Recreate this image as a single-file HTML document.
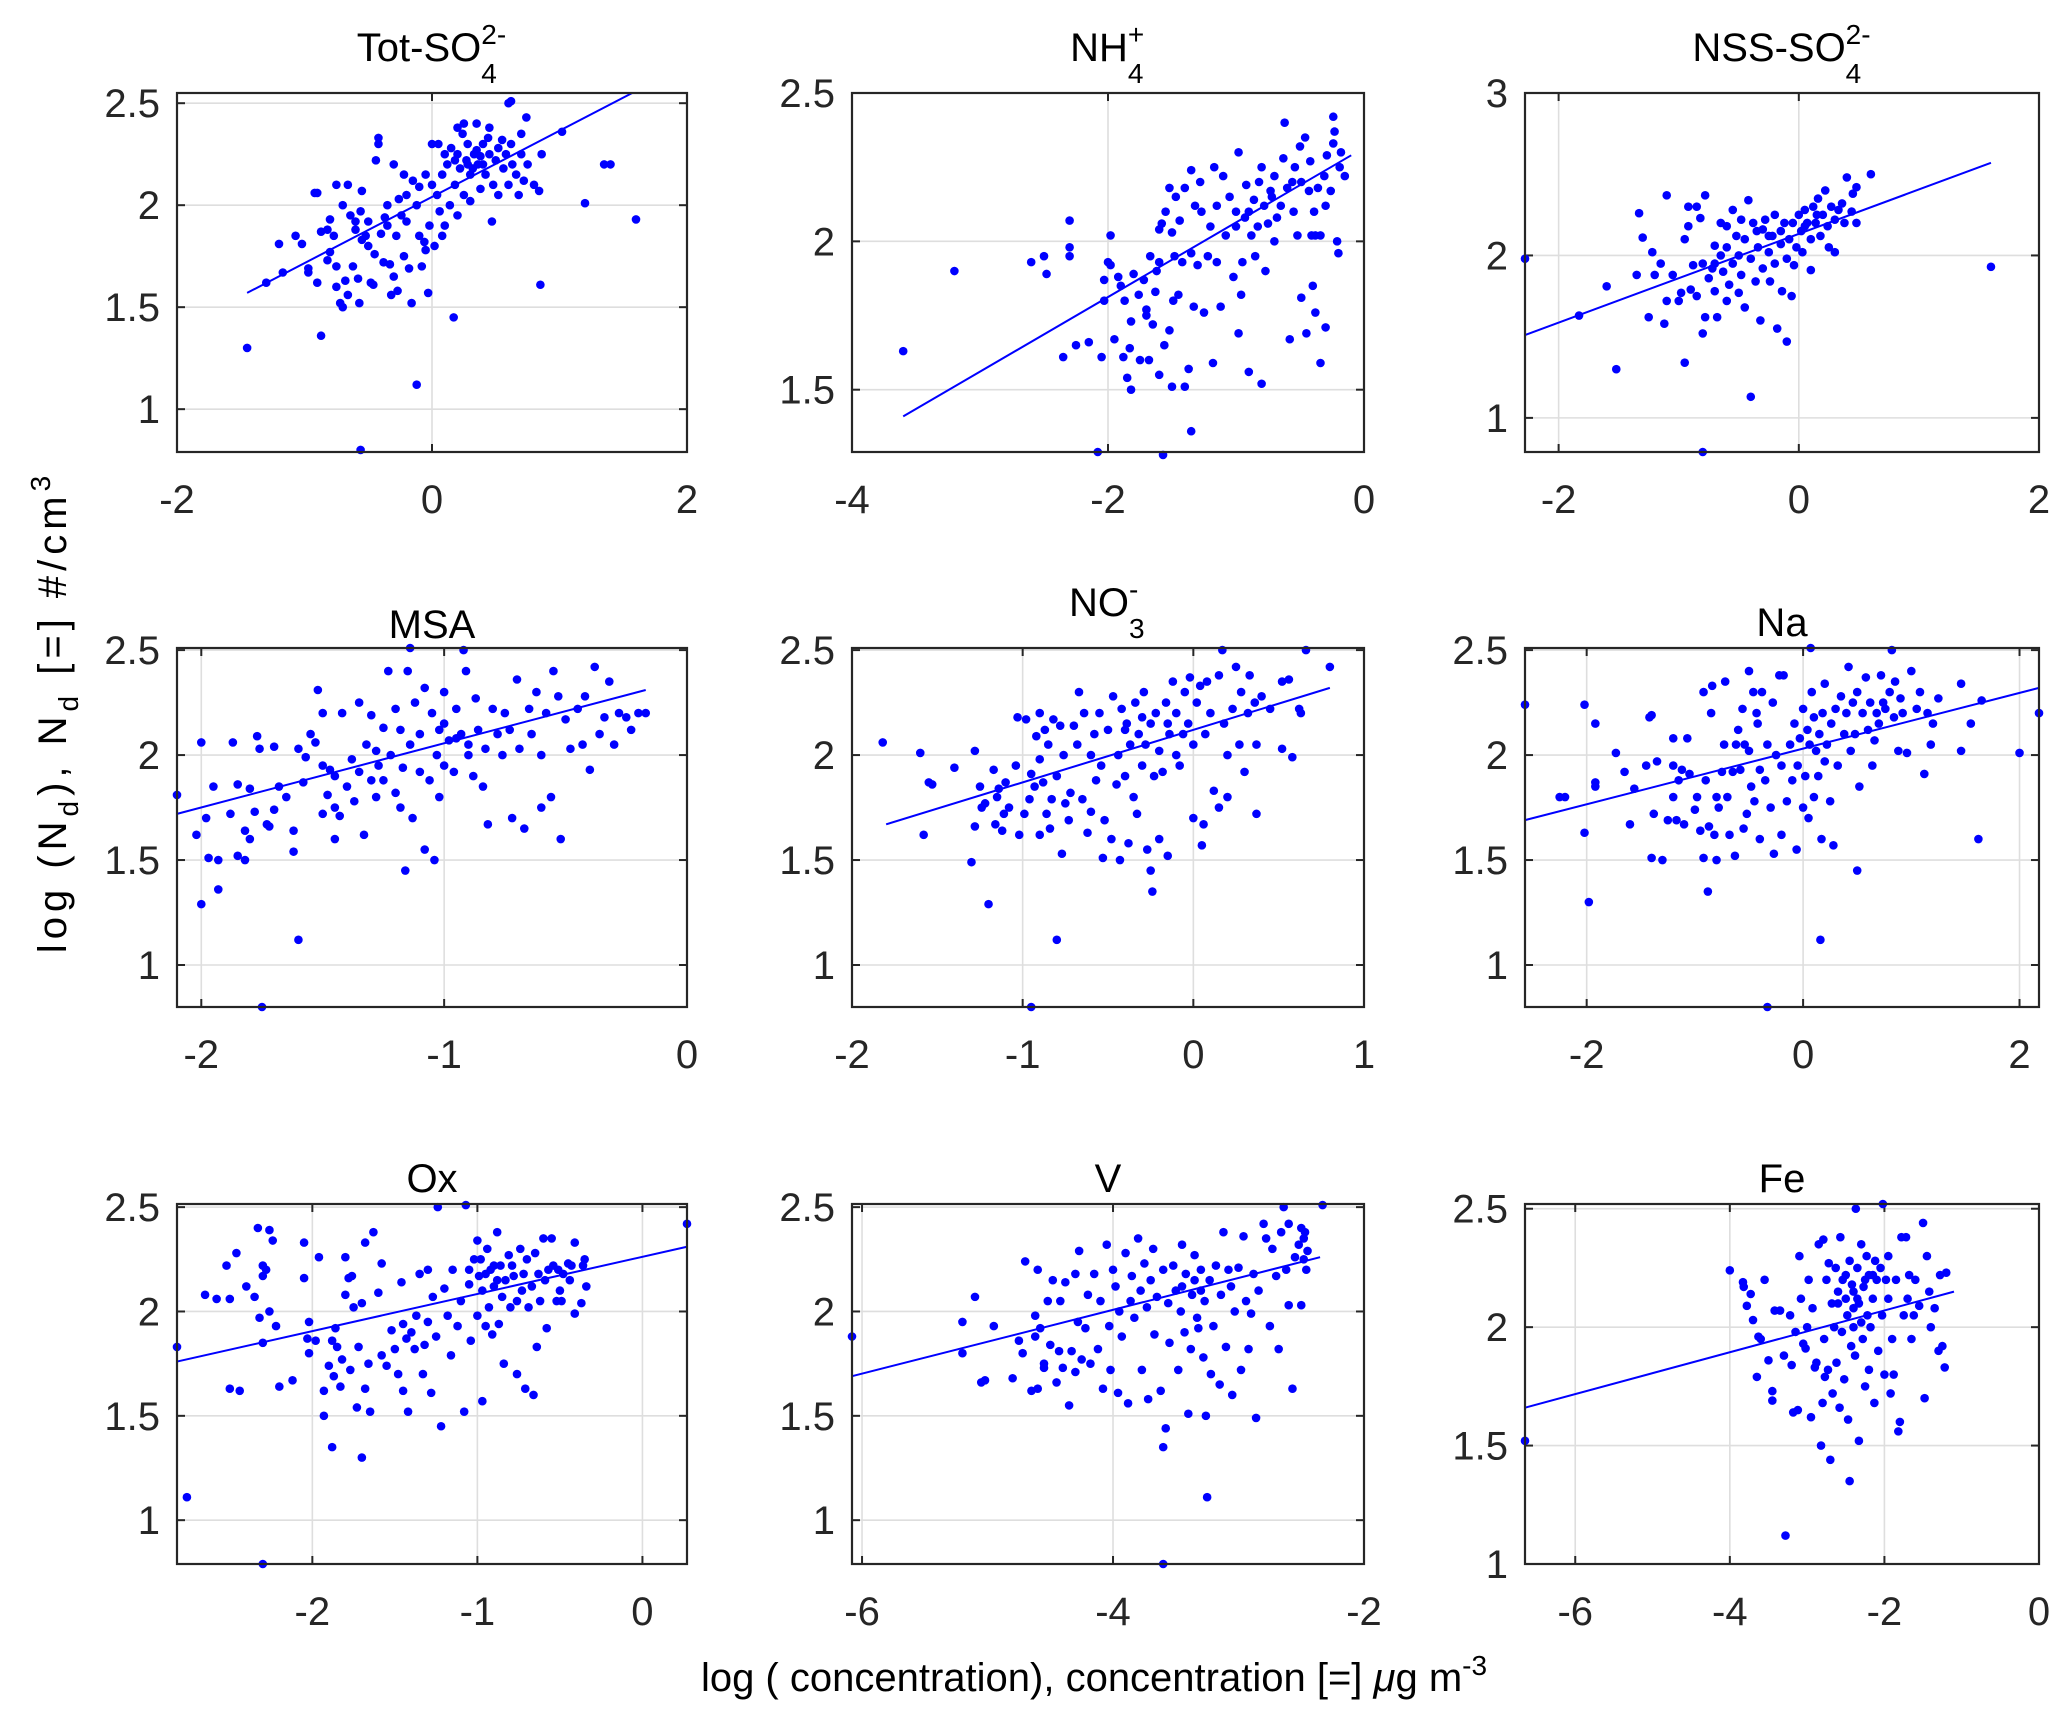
<!DOCTYPE html>
<html><head><meta charset="utf-8">
<style>
html,body{margin:0;padding:0;background:#fff;}
#fig{position:relative;width:2067px;height:1720px;overflow:hidden;font-family:"Liberation Sans",Arial,sans-serif;color:#000;}
svg{position:absolute;left:0;top:0;}
.title{position:absolute;font-size:40px;line-height:40px;white-space:nowrap;transform:translateX(-50%);}
.ss{position:relative;display:inline-block;width:26px;height:0;font-size:28px;line-height:32px;}
.ss .sp{position:absolute;left:0;top:-42px;}
.ss .sb{position:absolute;left:0;top:-3px;}
.lbl{position:absolute;font-size:40px;line-height:40px;white-space:nowrap;}
.sub{font-size:28px;position:relative;top:12px;}
.sup{font-size:28px;position:relative;top:-16px;}
</style></head><body>
<div id="fig">
<svg id="plot" width="2067" height="1720"></svg>

<div class="title" style="left:432px;top:28px">Tot-SO<span class="ss"><span class="sp">2-</span><span class="sb">4</span></span></div>
<div class="title" style="left:1108px;top:28px">NH<span class="ss" style="width:18px"><span class="sp">+</span><span class="sb">4</span></span></div>
<div class="title" style="left:1782px;top:28px">NSS-SO<span class="ss"><span class="sp">2-</span><span class="sb">4</span></span></div>
<div class="title" style="left:432px;top:605px">MSA</div>
<div class="title" style="left:1108px;top:583px">NO<span class="ss" style="width:18px"><span class="sp">-</span><span class="sb">3</span></span></div>
<div class="title" style="left:1782px;top:603px">Na</div>
<div class="title" style="left:432px;top:1159px">Ox</div>
<div class="title" style="left:1108px;top:1159px">V</div>
<div class="title" style="left:1782px;top:1159px">Fe</div>

<div class="lbl" id="ylab" style="left:55px;top:712px;letter-spacing:5px;transform:translate(-50%,-50%) rotate(-90deg);">log (N<span class="sub">d</span>), N<span class="sub">d</span> [=] #/cm<span class="sup">3</span></div>
<div class="lbl" style="left:1094px;top:1658px;transform:translateX(-50%);">log ( concentration), concentration [=] <i>μ</i>g m<span class="sup">-3</span></div>
</div>
<script>
// ---- data ----
const panelNames = ["tot-so4","nh4","nss-so4","msa","no3","na","ox","v","fe"];
const xTicksTot=[-2,0,2], yTicksTot=[1,1.5,2,2.5];
const xTicksNH4=[-4,-2,0], yTicksNH4=[1.5,2,2.5];
const xTicksNSS=[-2,0,2], yTicksNSS=[1,2,3];
const xTicksMSA=[-2,-1,0], yTicksMSA=[1,1.5,2,2.5];
const xTicksNO3=[-2,-1,0,1], yTicksNO3=[1,1.5,2,2.5];
const xTicksNa=[-2,0,2], yTicksNa=[1,1.5,2,2.5];
const xTicksOx=[-2,-1,0], yTicksOx=[1,1.5,2,2.5];
const xTicksV=[-6,-4,-2], yTicksV=[1,1.5,2,2.5];
const xTicksFe=[-6,-4,-2,0], yTicksFe=[1,1.5,2,2.5];

const fitTot=[[-1.45,1.57],[1.57,2.55]];
const fitNH4=[[-3.6,1.41],[-0.1,2.29]];
const fitNSS=[[-2.28,1.51],[1.6,2.57]];
const fitMSA=[[-2.1,1.72],[-0.17,2.31]];
const fitNO3=[[-1.8,1.67],[0.8,2.32]];
const fitNa=[[-2.57,1.69],[2.18,2.32]];
const fitOx=[[-2.82,1.76],[0.27,2.31]];
const fitV=[[-6.08,1.69],[-2.35,2.26]];
const fitFe=[[-6.65,1.66],[-1.1,2.15]];

const ptsTot=[[-1.45,1.30],[-0.87,1.36],[-0.12,1.12],[-0.56,0.8],[0.17,1.45],[0.85,1.61],[1.2,2.01],[1.6,1.93],[1.4,2.2],[1.35,2.2],[1.02,2.36],[0.86,2.25],[0.74,2.43],[0.6,2.5],[0.62,2.51],
[-1.3,1.62],[-1.2,1.81],[-1.17,1.67],[-1.07,1.85],[-1.02,1.81],[-0.97,1.69],[-0.97,1.67],[-0.92,2.06],[-0.9,2.06],[-0.9,1.62],[-0.87,1.87],[-0.82,1.88],[-0.82,1.73],[-0.8,1.77],[-0.8,1.93],[-0.77,1.85],[-0.75,1.6],[-0.75,1.7],[-0.75,2.1],[-0.72,1.52],[-0.7,1.5],[-0.7,2.0],[-0.68,1.63],[-0.66,1.56],[-0.66,2.1],[-0.64,1.95],[-0.62,1.7],[-0.6,1.92],[-0.6,1.88],[-0.58,1.64],[-0.57,1.52],[-0.56,1.97],[-0.55,2.07],[-0.55,1.83],[-0.52,1.85],[-0.5,1.92],[-0.5,1.8],[-0.48,1.62],[-0.46,1.61],[-0.45,1.76],[-0.44,2.22],[-0.42,2.33],[-0.42,2.3],[-0.4,1.86],[-0.38,1.72],[-0.37,1.94],[-0.35,2.0],[-0.35,1.9],[-0.33,1.71],[-0.32,1.56],[-0.3,1.65],[-0.3,2.2],[-0.28,1.85],[-0.27,1.58],[-0.26,2.03],[-0.24,1.95],[-0.22,1.75],[-0.22,2.15],[-0.2,1.92],[-0.2,2.05],[-0.18,1.69],[-0.16,1.52],[-0.15,2.12],[-0.12,2.0],[-0.1,1.85],[-0.1,2.09],[-0.08,1.7],[-0.06,1.82],[-0.05,2.15],[-0.03,1.57],[-0.02,1.9],[0.0,2.1],[0.02,1.8],[0.0,2.3],[0.04,2.05],[0.06,1.97],[0.08,2.15],[0.1,1.9],[0.12,2.2],[0.14,2.0],[0.15,2.28],[0.18,2.1],[0.2,1.95],[0.2,2.25],[0.22,2.18],[0.24,2.35],[0.25,2.05],[0.27,2.22],[0.28,2.3],[0.3,2.15],[0.3,2.02],[0.33,2.25],[0.35,2.27],[0.36,2.2],[0.38,2.08],[0.4,2.3],[0.4,2.2],[0.42,2.15],[0.44,2.33],[0.45,2.25],[0.47,1.92],[0.48,2.1],[0.5,2.22],[0.52,2.28],[0.52,2.05],[0.55,2.32],[0.56,2.18],[0.58,2.25],[0.6,2.1],[0.62,2.3],[0.63,2.2],[0.66,2.15],[0.68,2.05],[0.7,2.35],[0.7,2.25],[0.72,2.12],[0.75,2.2],[0.8,2.1],[0.84,2.07],[0.2,2.38],[0.25,2.4],[0.35,2.4],[0.45,2.38],[0.05,2.3],[0.1,2.25],[-0.05,1.78],[0.08,1.85],[0.28,2.2],[0.32,2.18],[0.38,2.24],[0.18,2.22]];

const ptsNH4=[[-3.6,1.63],[-3.2,1.9],[-2.3,2.07],[-2.6,1.93],[-2.5,1.95],[-2.48,1.89],[-2.3,1.98],[-2.3,1.95],[-2.35,1.61],[-2.25,1.65],[-2.15,1.66],[-2.05,1.61],[-1.98,2.02],[-2.03,1.8],[-2.03,1.87],[-2.0,1.93],[-1.98,1.92],[-1.95,1.67],[-1.92,1.88],[-1.9,1.85],[-1.88,1.61],[-1.87,1.8],[-1.85,1.54],[-1.83,1.64],[-1.82,1.5],[-1.82,1.73],[-1.8,1.89],[-1.76,1.82],[-1.75,1.6],[-1.72,1.87],[-1.7,1.77],[-1.7,1.75],[-1.68,1.6],[-1.67,1.95],[-1.65,1.72],[-1.63,1.83],[-1.62,1.9],[-1.6,1.55],[-1.6,1.93],[-1.58,2.06],[-1.56,1.65],[-1.55,2.1],[-1.52,1.7],[-1.5,2.03],[-1.5,1.51],[-1.49,1.8],[-1.48,1.95],[-1.47,2.15],[-1.45,1.82],[-1.44,2.07],[-1.42,1.93],[-1.4,2.18],[-1.4,1.51],[-1.37,1.57],[-1.35,1.36],[-1.35,1.96],[-1.33,1.78],[-1.32,2.12],[-1.3,1.92],[-1.28,2.2],[-1.27,2.1],[-1.25,1.76],[-1.22,1.95],[-1.2,2.05],[-1.18,1.59],[-1.17,2.25],[-1.15,1.93],[-1.15,2.12],[-1.12,1.78],[-1.1,2.22],[-1.08,2.02],[-1.05,2.15],[-1.02,1.88],[-1.0,2.1],[-0.98,1.69],[-0.98,2.3],[-0.96,1.82],[-0.95,1.93],[-0.93,2.08],[-0.92,2.19],[-0.9,1.56],[-0.88,2.02],[-0.86,2.14],[-0.85,1.95],[-0.83,2.05],[-0.82,2.2],[-0.8,1.52],[-0.78,2.12],[-0.77,1.9],[-0.75,2.06],[-0.73,2.17],[-0.7,2.0],[-0.7,2.22],[-0.68,2.08],[-0.65,2.12],[-0.63,2.28],[-0.62,2.4],[-0.6,2.18],[-0.58,1.67],[-0.56,2.2],[-0.55,2.1],[-0.54,2.25],[-0.52,2.02],[-0.5,2.32],[-0.49,1.81],[-0.49,2.2],[-0.46,2.35],[-0.45,1.69],[-0.43,2.17],[-0.42,2.27],[-0.41,2.02],[-0.4,1.85],[-0.39,2.1],[-0.38,1.76],[-0.38,2.02],[-0.36,2.18],[-0.34,1.59],[-0.34,2.02],[-0.31,2.22],[-0.3,1.71],[-0.29,2.29],[-0.3,2.12],[-0.26,2.17],[-0.24,2.33],[-0.23,2.37],[-0.21,2.0],[-0.2,1.96],[-0.19,2.25],[-0.18,2.3],[-0.24,2.42],[-0.15,2.22],[-1.57,1.28],[-2.08,1.29],[-1.6,2.04],[-1.52,2.18],[-1.35,2.24],[-1.0,2.05],[-0.9,2.1],[-0.8,2.25],[-0.72,2.15]];

const ptsNSS=[[-2.28,1.98],[-1.83,1.63],[-1.6,1.81],[-1.52,1.3],[-1.33,2.26],[-1.3,2.11],[-1.35,1.88],[-1.25,1.62],[-1.22,2.02],[-1.2,1.88],[-1.15,1.95],[-1.1,2.37],[-1.12,1.58],[-1.1,1.72],[-1.05,1.88],[-1.0,1.72],[-0.98,1.77],[-0.95,2.1],[-0.95,1.34],[-0.92,2.18],[-0.9,1.79],[-0.88,1.94],[-0.85,2.3],[-0.85,1.75],[-0.82,2.23],[-0.8,1.52],[-0.8,1.95],[-0.78,2.37],[-0.78,1.62],[-0.75,1.86],[-0.72,1.92],[-0.7,2.06],[-0.7,1.78],[-0.68,1.62],[-0.65,2.2],[-0.63,1.9],[-0.6,2.05],[-0.6,1.72],[-0.58,1.82],[-0.55,2.28],[-0.55,1.95],[-0.52,2.12],[-0.5,2.0],[-0.5,1.77],[-0.48,1.88],[-0.45,2.1],[-0.45,1.68],[-0.42,2.34],[-0.4,1.98],[-0.4,1.13],[-0.38,2.2],[-0.36,1.84],[-0.34,2.05],[-0.32,1.6],[-0.3,2.16],[-0.3,1.92],[-0.28,2.22],[-0.25,2.02],[-0.24,1.84],[-0.22,2.12],[-0.2,1.95],[-0.2,2.25],[-0.18,1.55],[-0.15,2.07],[-0.14,1.78],[-0.12,2.2],[-0.1,1.98],[-0.08,2.1],[-0.06,1.75],[-0.05,2.2],[-0.04,1.94],[-0.1,1.47],[-0.02,2.05],[0.0,2.25],[0.02,2.15],[0.03,2.02],[0.05,2.28],[0.07,2.2],[0.1,2.1],[0.1,1.91],[0.12,2.3],[0.14,2.2],[0.16,2.35],[0.18,2.12],[0.2,2.25],[0.22,2.4],[0.24,2.18],[0.25,2.05],[0.27,2.3],[0.3,2.22],[0.3,2.02],[0.33,2.28],[0.36,2.32],[0.38,2.2],[0.4,2.48],[0.44,2.27],[0.45,2.38],[0.48,2.42],[0.48,2.2],[0.6,2.5],[1.6,1.93],[-0.8,0.79],[-0.92,2.3],[-0.6,2.18],[-0.35,2.15],[-0.48,2.22],[-0.25,2.12],[-0.15,2.15],[0.05,2.18],[0.15,2.25],[-0.65,2.0],[-0.7,1.95]];

const ptsMSA=[[-2.1,1.81],[-2.02,1.62],[-2.0,1.29],[-2.0,2.06],[-1.98,1.7],[-1.97,1.51],[-1.95,1.85],[-1.93,1.5],[-1.93,1.36],[-1.88,1.72],[-1.87,2.06],[-1.85,1.52],[-1.85,1.86],[-1.82,1.64],[-1.82,1.5],[-1.8,1.6],[-1.8,1.84],[-1.78,1.73],[-1.77,2.09],[-1.76,2.03],[-1.75,0.8],[-1.73,1.67],[-1.72,1.66],[-1.7,2.04],[-1.7,1.74],[-1.68,1.85],[-1.65,1.8],[-1.62,1.64],[-1.62,1.54],[-1.6,2.03],[-1.6,1.12],[-1.58,1.87],[-1.57,1.99],[-1.55,2.1],[-1.53,2.06],[-1.52,2.31],[-1.5,2.2],[-1.5,1.95],[-1.48,1.81],[-1.47,1.93],[-1.45,1.75],[-1.45,1.6],[-1.43,1.71],[-1.42,2.2],[-1.4,1.85],[-1.38,1.98],[-1.37,1.78],[-1.35,2.25],[-1.35,1.92],[-1.33,1.62],[-1.32,2.05],[-1.3,1.88],[-1.3,2.19],[-1.28,1.8],[-1.27,1.95],[-1.25,2.13],[-1.25,1.88],[-1.23,2.4],[-1.22,2.0],[-1.2,1.82],[-1.2,2.22],[-1.18,1.75],[-1.17,1.94],[-1.16,1.45],[-1.15,2.4],[-1.14,2.05],[-1.13,1.7],[-1.12,2.25],[-1.1,1.92],[-1.1,2.1],[-1.08,1.55],[-1.08,2.32],[-1.06,1.88],[-1.05,2.2],[-1.04,1.5],[-1.03,2.0],[-1.02,1.8],[-1.0,2.3],[-1.0,1.95],[-1.0,2.15],[-0.98,2.07],[-0.96,1.92],[-0.95,2.22],[-0.93,2.1],[-0.92,2.5],[-0.91,2.4],[-0.9,2.05],[-0.88,1.9],[-0.87,2.27],[-0.86,2.12],[-0.84,1.85],[-0.83,2.03],[-0.82,1.67],[-0.8,2.22],[-0.78,2.1],[-0.76,2.0],[-0.75,2.2],[-0.73,2.12],[-0.72,1.7],[-0.7,2.36],[-0.69,2.03],[-0.67,1.65],[-0.65,2.22],[-0.64,2.1],[-0.62,2.3],[-0.6,1.75],[-0.6,2.0],[-0.58,2.2],[-0.56,1.8],[-0.55,2.4],[-0.53,2.28],[-0.52,1.6],[-0.5,2.17],[-0.48,2.03],[-0.45,2.22],[-0.43,2.05],[-0.42,2.28],[-0.4,1.93],[-0.38,2.42],[-0.36,2.1],[-0.34,2.18],[-0.32,2.35],[-0.3,2.05],[-0.28,2.2],[-0.25,2.18],[-0.23,2.12],[-0.2,2.2],[-0.17,2.2],[-1.14,2.51],[-1.5,1.72],[-1.45,1.9],[-0.9,2.0],[-1.28,2.02],[-1.18,2.12],[-1.02,2.12],[-0.95,2.08]];

const ptsNO3=[[-1.82,2.06],[-1.6,2.01],[-1.58,1.62],[-1.55,1.87],[-1.53,1.86],[-1.4,1.94],[-1.3,1.49],[-1.28,2.02],[-1.28,1.66],[-1.25,1.85],[-1.24,1.75],[-1.22,1.77],[-1.2,1.29],[-1.17,1.93],[-1.16,1.67],[-1.15,1.8],[-1.14,1.84],[-1.12,1.64],[-1.11,1.72],[-1.1,1.87],[-1.08,1.75],[-1.04,1.95],[-1.03,2.18],[-1.02,1.62],[-0.99,1.72],[-0.98,2.17],[-0.96,1.79],[-0.95,1.91],[-0.93,1.85],[-0.92,2.09],[-0.9,2.2],[-0.9,1.62],[-0.9,1.98],[-0.88,1.87],[-0.87,2.12],[-0.86,1.72],[-0.85,2.05],[-0.84,1.65],[-0.83,1.79],[-0.82,2.17],[-0.8,1.9],[-0.8,1.12],[-0.78,2.14],[-0.77,1.53],[-0.76,2.0],[-0.75,1.77],[-0.73,1.69],[-0.72,1.82],[-0.7,2.14],[-0.68,2.05],[-0.67,2.3],[-0.65,1.79],[-0.64,2.2],[-0.62,1.63],[-0.6,2.0],[-0.6,1.73],[-0.58,2.1],[-0.57,1.88],[-0.55,2.2],[-0.54,1.95],[-0.53,1.51],[-0.52,1.69],[-0.5,2.12],[-0.48,1.6],[-0.47,2.28],[-0.45,1.86],[-0.44,2.0],[-0.43,1.5],[-0.42,2.22],[-0.4,1.9],[-0.39,2.15],[-0.38,1.58],[-0.37,2.05],[-0.35,1.8],[-0.34,2.25],[-0.33,1.72],[-0.32,2.1],[-0.3,1.95],[-0.29,2.3],[-0.28,2.05],[-0.27,1.55],[-0.25,2.15],[-0.25,1.45],[-0.24,1.35],[-0.23,1.9],[-0.22,2.2],[-0.2,2.02],[-0.2,1.6],[-0.18,1.92],[-0.16,2.25],[-0.15,1.52],[-0.14,2.1],[-0.12,2.35],[-0.1,2.0],[-0.1,2.2],[-0.08,1.95],[-0.06,2.1],[-0.05,2.3],[-0.03,2.15],[-0.02,2.37],[0.0,2.05],[0.0,1.7],[0.02,2.25],[0.04,2.33],[0.05,1.57],[0.06,1.67],[0.07,2.1],[0.08,2.35],[0.1,2.2],[0.12,1.83],[0.15,2.38],[0.15,1.75],[0.17,2.5],[0.18,2.15],[0.2,2.0],[0.2,1.8],[0.23,2.22],[0.25,2.42],[0.27,2.05],[0.28,2.3],[0.3,1.92],[0.32,2.2],[0.33,2.38],[0.36,2.25],[0.37,2.05],[0.37,1.72],[0.4,2.28],[0.45,2.22],[0.52,2.03],[0.52,2.35],[0.56,2.36],[0.58,1.99],[0.62,2.22],[0.63,2.2],[0.66,2.5],[0.8,2.42],[-0.95,0.8],[-0.4,2.12],[-0.3,2.18],[-0.15,2.15]];

const ptsNa=[[-2.57,2.24],[-2.25,1.8],[-2.2,1.8],[-2.02,2.24],[-2.02,1.63],[-1.98,1.3],[-1.92,1.87],[-1.92,1.85],[-1.92,2.15],[-1.73,2.01],[-1.65,1.92],[-1.6,1.67],[-1.56,1.84],[-1.45,1.95],[-1.42,2.18],[-1.4,2.19],[-1.4,1.51],[-1.38,1.72],[-1.35,1.97],[-1.3,1.5],[-1.25,1.69],[-1.2,1.95],[-1.2,1.8],[-1.2,2.08],[-1.17,1.69],[-1.15,1.88],[-1.12,1.93],[-1.1,1.67],[-1.07,2.08],[-1.05,1.91],[-1.0,1.74],[-0.98,1.8],[-0.95,1.64],[-0.92,1.51],[-0.92,2.3],[-0.9,1.88],[-0.88,1.35],[-0.87,1.66],[-0.85,2.2],[-0.84,2.33],[-0.82,1.62],[-0.8,1.5],[-0.8,1.8],[-0.78,1.75],[-0.75,1.92],[-0.73,2.05],[-0.72,2.35],[-0.7,1.8],[-0.68,1.62],[-0.65,1.92],[-0.63,1.52],[-0.62,2.05],[-0.6,2.12],[-0.58,1.93],[-0.56,2.22],[-0.55,1.65],[-0.54,2.05],[-0.52,1.72],[-0.5,2.02],[-0.5,2.4],[-0.48,1.85],[-0.46,2.3],[-0.45,1.78],[-0.43,2.2],[-0.42,2.15],[-0.4,1.6],[-0.4,1.93],[-0.38,2.3],[-0.35,1.88],[-0.33,2.05],[-0.3,1.75],[-0.28,2.25],[-0.27,1.53],[-0.25,2.0],[-0.22,2.38],[-0.2,1.95],[-0.2,1.62],[-0.18,2.38],[-0.15,1.78],[-0.12,2.05],[-0.1,1.88],[-0.08,2.15],[-0.06,1.55],[-0.05,1.95],[-0.03,2.08],[0.0,1.75],[0.0,2.22],[0.02,1.9],[0.04,2.12],[0.05,1.7],[0.06,2.05],[0.08,2.3],[0.1,1.8],[0.1,2.18],[0.12,2.02],[0.14,1.9],[0.15,2.1],[0.16,1.12],[0.17,1.6],[0.18,2.2],[0.2,2.34],[0.2,1.97],[0.22,2.05],[0.25,1.78],[0.26,2.15],[0.28,1.57],[0.3,2.22],[0.32,1.95],[0.35,2.28],[0.38,2.1],[0.4,2.2],[0.42,2.42],[0.44,2.02],[0.46,2.25],[0.48,2.1],[0.5,1.45],[0.5,2.3],[0.52,1.85],[0.55,2.2],[0.58,2.37],[0.6,2.12],[0.62,2.25],[0.64,1.95],[0.66,2.07],[0.68,2.2],[0.7,2.15],[0.72,2.38],[0.74,2.25],[0.76,2.22],[0.8,2.3],[0.82,2.5],[0.84,2.18],[0.85,2.35],[0.88,2.02],[0.9,2.27],[0.92,2.2],[0.96,2.01],[1.0,2.4],[1.05,2.22],[1.08,2.3],[1.12,1.91],[1.15,2.2],[1.18,2.05],[1.2,2.15],[1.25,2.27],[1.46,2.02],[1.46,2.34],[1.55,2.15],[1.62,1.6],[1.65,2.26],[2.0,2.01],[2.18,2.2],[0.07,2.51],[-0.33,0.8]];

const ptsOx=[[-2.82,1.83],[-2.76,1.11],[-2.65,2.08],[-2.58,2.06],[-2.52,2.22],[-2.5,2.06],[-2.5,1.63],[-2.46,2.28],[-2.44,1.62],[-2.4,2.12],[-2.35,2.07],[-2.33,2.4],[-2.32,1.97],[-2.3,1.85],[-2.3,2.22],[-2.3,2.17],[-2.28,2.2],[-2.26,2.0],[-2.26,2.39],[-2.24,2.34],[-2.22,1.93],[-2.2,1.64],[-2.12,1.67],[-2.05,2.16],[-2.05,2.33],[-2.03,1.87],[-2.02,1.95],[-2.02,1.8],[-1.98,1.86],[-1.96,2.26],[-1.93,1.62],[-1.93,1.5],[-1.9,1.74],[-1.88,1.86],[-1.88,1.35],[-1.87,1.69],[-1.86,1.92],[-1.85,1.83],[-1.83,1.64],[-1.82,1.77],[-1.8,2.08],[-1.8,2.26],[-1.78,2.16],[-1.77,1.72],[-1.76,2.17],[-1.75,2.02],[-1.73,1.54],[-1.72,1.83],[-1.7,2.04],[-1.7,1.3],[-1.68,1.63],[-1.68,2.33],[-1.66,1.75],[-1.65,1.52],[-1.63,2.38],[-1.6,2.09],[-1.58,1.79],[-1.58,2.23],[-1.55,1.74],[-1.52,1.91],[-1.5,1.82],[-1.48,1.7],[-1.46,2.14],[-1.45,1.62],[-1.45,1.94],[-1.43,1.87],[-1.42,1.52],[-1.4,1.9],[-1.38,1.82],[-1.37,1.98],[-1.35,2.18],[-1.33,1.7],[-1.32,1.84],[-1.3,2.2],[-1.3,1.95],[-1.28,1.61],[-1.27,2.07],[-1.25,1.88],[-1.24,2.5],[-1.22,1.45],[-1.2,2.11],[-1.18,1.98],[-1.16,1.79],[-1.15,2.2],[-1.12,1.93],[-1.1,2.05],[-1.08,1.52],[-1.05,2.13],[-1.04,1.86],[-1.02,2.25],[-1.0,1.98],[-0.99,2.17],[-0.97,1.57],[-0.97,2.1],[-0.95,1.93],[-0.94,2.3],[-0.93,2.02],[-0.92,2.2],[-0.91,1.89],[-0.9,2.12],[-0.88,2.38],[-0.87,1.94],[-0.86,2.22],[-0.85,2.07],[-0.84,1.75],[-0.83,2.15],[-0.81,2.27],[-0.8,2.02],[-0.79,2.22],[-0.78,2.17],[-0.76,1.7],[-0.76,2.05],[-0.74,2.3],[-0.73,2.1],[-0.72,2.18],[-0.71,1.63],[-0.7,2.25],[-0.69,2.02],[-0.67,2.12],[-0.66,1.6],[-0.65,2.28],[-0.64,1.83],[-0.63,2.18],[-0.62,2.05],[-0.6,2.35],[-0.59,2.15],[-0.58,1.92],[-0.57,2.2],[-0.55,2.35],[-0.54,2.22],[-0.52,2.05],[-0.51,2.2],[-0.5,2.1],[-0.49,2.05],[-0.48,2.18],[-0.45,2.23],[-0.44,2.15],[-0.43,2.22],[-0.41,1.99],[-0.41,2.33],[-0.37,2.04],[-0.36,2.22],[-0.34,2.12],[-0.35,2.25],[0.27,2.42],[-1.07,2.51],[-1.0,2.34],[-0.98,2.25],[-2.3,0.79],[-1.05,2.2],[-0.95,2.18],[-0.9,2.22],[-0.88,2.15]];

const ptsV=[[-6.08,1.88],[-5.2,1.95],[-5.2,1.8],[-5.1,2.07],[-5.05,1.66],[-5.02,1.67],[-4.95,1.93],[-4.8,1.68],[-4.75,1.86],[-4.72,1.8],[-4.7,2.24],[-4.65,1.62],[-4.62,1.98],[-4.62,1.88],[-4.6,2.2],[-4.6,1.63],[-4.58,1.92],[-4.55,1.75],[-4.55,1.73],[-4.52,2.05],[-4.5,1.84],[-4.48,2.15],[-4.45,1.66],[-4.43,1.81],[-4.42,2.05],[-4.4,1.73],[-4.38,2.14],[-4.35,1.55],[-4.33,1.81],[-4.3,2.18],[-4.3,1.71],[-4.28,1.95],[-4.27,2.29],[-4.25,1.77],[-4.22,1.92],[-4.2,2.08],[-4.18,1.75],[-4.15,2.18],[-4.12,1.82],[-4.1,2.05],[-4.08,1.63],[-4.05,2.32],[-4.03,1.93],[-4.02,1.72],[-4.0,2.2],[-3.98,2.12],[-3.96,1.61],[-3.95,2.0],[-3.93,1.88],[-3.9,2.28],[-3.88,1.56],[-3.86,2.05],[-3.85,2.17],[-3.83,1.97],[-3.8,2.35],[-3.78,2.1],[-3.77,1.72],[-3.75,2.23],[-3.73,2.02],[-3.72,1.58],[-3.7,2.15],[-3.68,2.3],[-3.67,1.89],[-3.65,2.07],[-3.62,1.62],[-3.6,2.2],[-3.6,1.35],[-3.58,1.44],[-3.56,2.04],[-3.55,1.85],[-3.52,2.22],[-3.5,2.1],[-3.48,1.72],[-3.46,2.0],[-3.45,2.32],[-3.43,1.9],[-3.42,2.18],[-3.4,1.51],[-3.38,1.82],[-3.37,2.08],[-3.35,2.27],[-3.33,1.97],[-3.32,1.92],[-3.3,2.2],[-3.28,1.78],[-3.27,2.05],[-3.26,1.5],[-3.25,1.11],[-3.23,2.15],[-3.22,1.7],[-3.2,1.93],[-3.18,2.22],[-3.15,1.65],[-3.14,2.08],[-3.12,2.38],[-3.1,1.83],[-3.08,2.2],[-3.06,2.12],[-3.05,1.6],[-3.03,2.0],[-3.0,2.21],[-2.98,1.72],[-2.96,2.36],[-2.94,2.05],[-2.92,1.82],[-2.9,1.99],[-2.88,2.18],[-2.86,1.49],[-2.84,2.1],[-2.8,2.42],[-2.78,2.35],[-2.75,1.93],[-2.73,2.3],[-2.7,2.17],[-2.68,1.82],[-2.66,2.38],[-2.64,2.5],[-2.62,2.2],[-2.6,2.42],[-2.57,1.63],[-2.55,2.26],[-2.52,2.32],[-2.5,2.03],[-2.5,2.4],[-2.48,2.25],[-2.47,2.38],[-2.46,2.2],[-2.45,2.29],[-2.6,2.03],[-2.48,2.35],[-3.6,0.79],[-2.33,2.51],[-3.35,2.15],[-3.45,2.12],[-3.3,2.1]];

const ptsFe=[[-6.65,1.52],[-4.0,2.24],[-3.83,2.19],[-3.82,2.17],[-3.73,2.14],[-3.78,2.09],[-3.7,2.03],[-3.65,1.79],[-3.63,1.96],[-3.6,1.95],[-3.55,2.2],[-3.5,1.86],[-3.45,1.73],[-3.42,2.07],[-3.45,1.69],[-3.3,1.88],[-3.28,1.12],[-3.35,2.07],[-3.22,2.05],[-3.2,1.84],[-3.18,1.64],[-3.15,1.98],[-3.12,1.65],[-3.1,2.3],[-3.08,2.12],[-3.05,1.93],[-3.02,1.91],[-3.0,2.0],[-2.98,2.2],[-2.95,1.62],[-2.93,2.08],[-2.9,1.83],[-2.88,1.85],[-2.85,2.35],[-2.82,1.5],[-2.8,1.68],[-2.79,2.37],[-2.78,1.95],[-2.77,1.79],[-2.75,2.2],[-2.73,1.82],[-2.72,2.27],[-2.7,1.44],[-2.68,2.1],[-2.67,1.72],[-2.65,2.0],[-2.63,2.25],[-2.62,1.85],[-2.6,2.15],[-2.58,1.66],[-2.57,2.38],[-2.55,1.98],[-2.54,2.2],[-2.52,1.78],[-2.5,2.12],[-2.48,2.05],[-2.47,1.61],[-2.45,1.35],[-2.45,2.28],[-2.43,1.92],[-2.42,2.18],[-2.4,2.08],[-2.38,1.88],[-2.37,2.5],[-2.35,2.25],[-2.33,1.52],[-2.33,2.1],[-2.3,2.02],[-2.3,2.35],[-2.28,1.95],[-2.27,2.17],[-2.25,1.75],[-2.23,2.3],[-2.22,2.05],[-2.2,1.82],[-2.2,2.22],[-2.18,2.0],[-2.15,2.12],[-2.13,1.68],[-2.12,2.28],[-2.1,2.2],[-2.08,1.9],[-2.05,2.25],[-2.03,2.05],[-2.02,2.52],[-2.0,1.8],[-1.98,2.2],[-1.95,2.12],[-1.92,1.72],[-1.9,1.95],[-1.88,1.8],[-1.85,2.2],[-1.82,1.56],[-1.8,1.6],[-1.78,2.38],[-1.75,2.05],[-1.72,2.38],[-1.7,2.12],[-1.68,2.22],[-1.65,1.95],[-1.62,2.05],[-1.6,2.2],[-1.55,2.09],[-1.5,2.44],[-1.48,1.7],[-1.45,2.3],[-1.42,2.15],[-1.4,2.0],[-1.35,2.08],[-1.3,1.9],[-1.28,2.22],[-1.25,1.92],[-1.22,1.83],[-1.2,2.23],[-1.95,2.3],[-2.4,2.15],[-2.5,2.22],[-2.35,2.12],[-2.25,2.2],[-2.15,2.22],[-2.6,2.1],[-2.4,2.0]];

// ---- rendering ----
const NS="http://www.w3.org/2000/svg";
const svg=document.getElementById('plot');
function el(tag,attrs,parent){const e=document.createElementNS(NS,tag);for(const k in attrs)e.setAttribute(k,attrs[k]);(parent||svg).appendChild(e);return e;}

const C1=[177,687],C2=[852,1364],C3=[1525,2039];
const R1=[93,452],R2=[648,1007],R3=[1204,1564];
const panels=[
 {name:panelNames[0],c:C1,r:R1,xl:[-2,2],yl:[0.79,2.55],xt:xTicksTot,yt:yTicksTot,pts:ptsTot,fit:fitTot},
 {name:panelNames[1],c:C2,r:R1,xl:[-4,0],yl:[1.29,2.5],xt:xTicksNH4,yt:yTicksNH4,pts:ptsNH4,fit:fitNH4},
 {name:panelNames[2],c:C3,r:R1,xl:[-2.28,2],yl:[0.79,3],xt:xTicksNSS,yt:yTicksNSS,pts:ptsNSS,fit:fitNSS},
 {name:panelNames[3],c:C1,r:R2,xl:[-2.1,0],yl:[0.8,2.51],xt:xTicksMSA,yt:yTicksMSA,pts:ptsMSA,fit:fitMSA},
 {name:panelNames[4],c:C2,r:R2,xl:[-2,1],yl:[0.8,2.51],xt:xTicksNO3,yt:yTicksNO3,pts:ptsNO3,fit:fitNO3},
 {name:panelNames[5],c:C3,r:R2,xl:[-2.57,2.18],yl:[0.8,2.51],xt:xTicksNa,yt:yTicksNa,pts:ptsNa,fit:fitNa},
 {name:panelNames[6],c:C1,r:R3,xl:[-2.82,0.27],yl:[0.79,2.515],xt:xTicksOx,yt:yTicksOx,pts:ptsOx,fit:fitOx},
 {name:panelNames[7],c:C2,r:R3,xl:[-6.08,-2],yl:[0.79,2.515],xt:xTicksV,yt:yTicksV,pts:ptsV,fit:fitV},
 {name:panelNames[8],c:C3,r:R3,xl:[-6.65,0],yl:[1,2.52],xt:xTicksFe,yt:yTicksFe,pts:ptsFe,fit:fitFe}
];

panels.forEach(p=>{
  const L=p.c[0],R=p.c[1],T=p.r[0],B=p.r[1];
  const sx=v=>L+(v-p.xl[0])/(p.xl[1]-p.xl[0])*(R-L);
  const sy=v=>B-(v-p.yl[0])/(p.yl[1]-p.yl[0])*(B-T);
  const g=el('g',{});
  
  
  p.xt.forEach(t=>{const x=sx(t);if(x>L+1&&x<R-1){const ln=el('line',{x1:x,x2:x,y1:T,y2:B,stroke:'#dedede','stroke-width':1.6},g);}});
  p.yt.forEach(t=>{const y=sy(t);if(y>T+1&&y<B-1){const ln=el('line',{x1:L,x2:R,y1:y,y2:y,stroke:'#dedede','stroke-width':1.6},g);}});
  p.xt.forEach(t=>{const x=sx(t);
    el('line',{x1:x,x2:x,y1:B,y2:B-8,stroke:'#262626','stroke-width':2},g);
    el('line',{x1:x,x2:x,y1:T,y2:T+8,stroke:'#262626','stroke-width':2},g);
    const tx=el('text',{x:x,y:B+61,'text-anchor':'middle','font-size':40,'font-family':'Liberation Sans, Arial, sans-serif',fill:'#262626'},g);
    tx.textContent=String(t);
    
    });
  p.yt.forEach(t=>{const y=sy(t);
    el('line',{x1:L,x2:L+8,y1:y,y2:y,stroke:'#262626','stroke-width':2},g);
    el('line',{x1:R,x2:R-8,y1:y,y2:y,stroke:'#262626','stroke-width':2},g);
    const tx=el('text',{x:L-17,y:y+14,'text-anchor':'end','font-size':40,'font-family':'Liberation Sans, Arial, sans-serif',fill:'#262626'},g);
    tx.textContent=String(t);
    
    });
  p.pts.forEach(d=>{
    const c=el('circle',{cx:sx(d[0]),cy:sy(d[1]),r:4.3,fill:'#0000ff'},g);
    
    
  });
  const fl=el('line',{x1:sx(p.fit[0][0]),y1:sy(p.fit[0][1]),x2:sx(p.fit[1][0]),y2:sy(p.fit[1][1]),stroke:'#0000ff','stroke-width':2},g);
  
  
  const bx=el('rect',{x:L,y:T,width:R-L,height:B-T,fill:'none',stroke:'#262626','stroke-width':2.2},g);
  
  
});
</script>
</body></html>
